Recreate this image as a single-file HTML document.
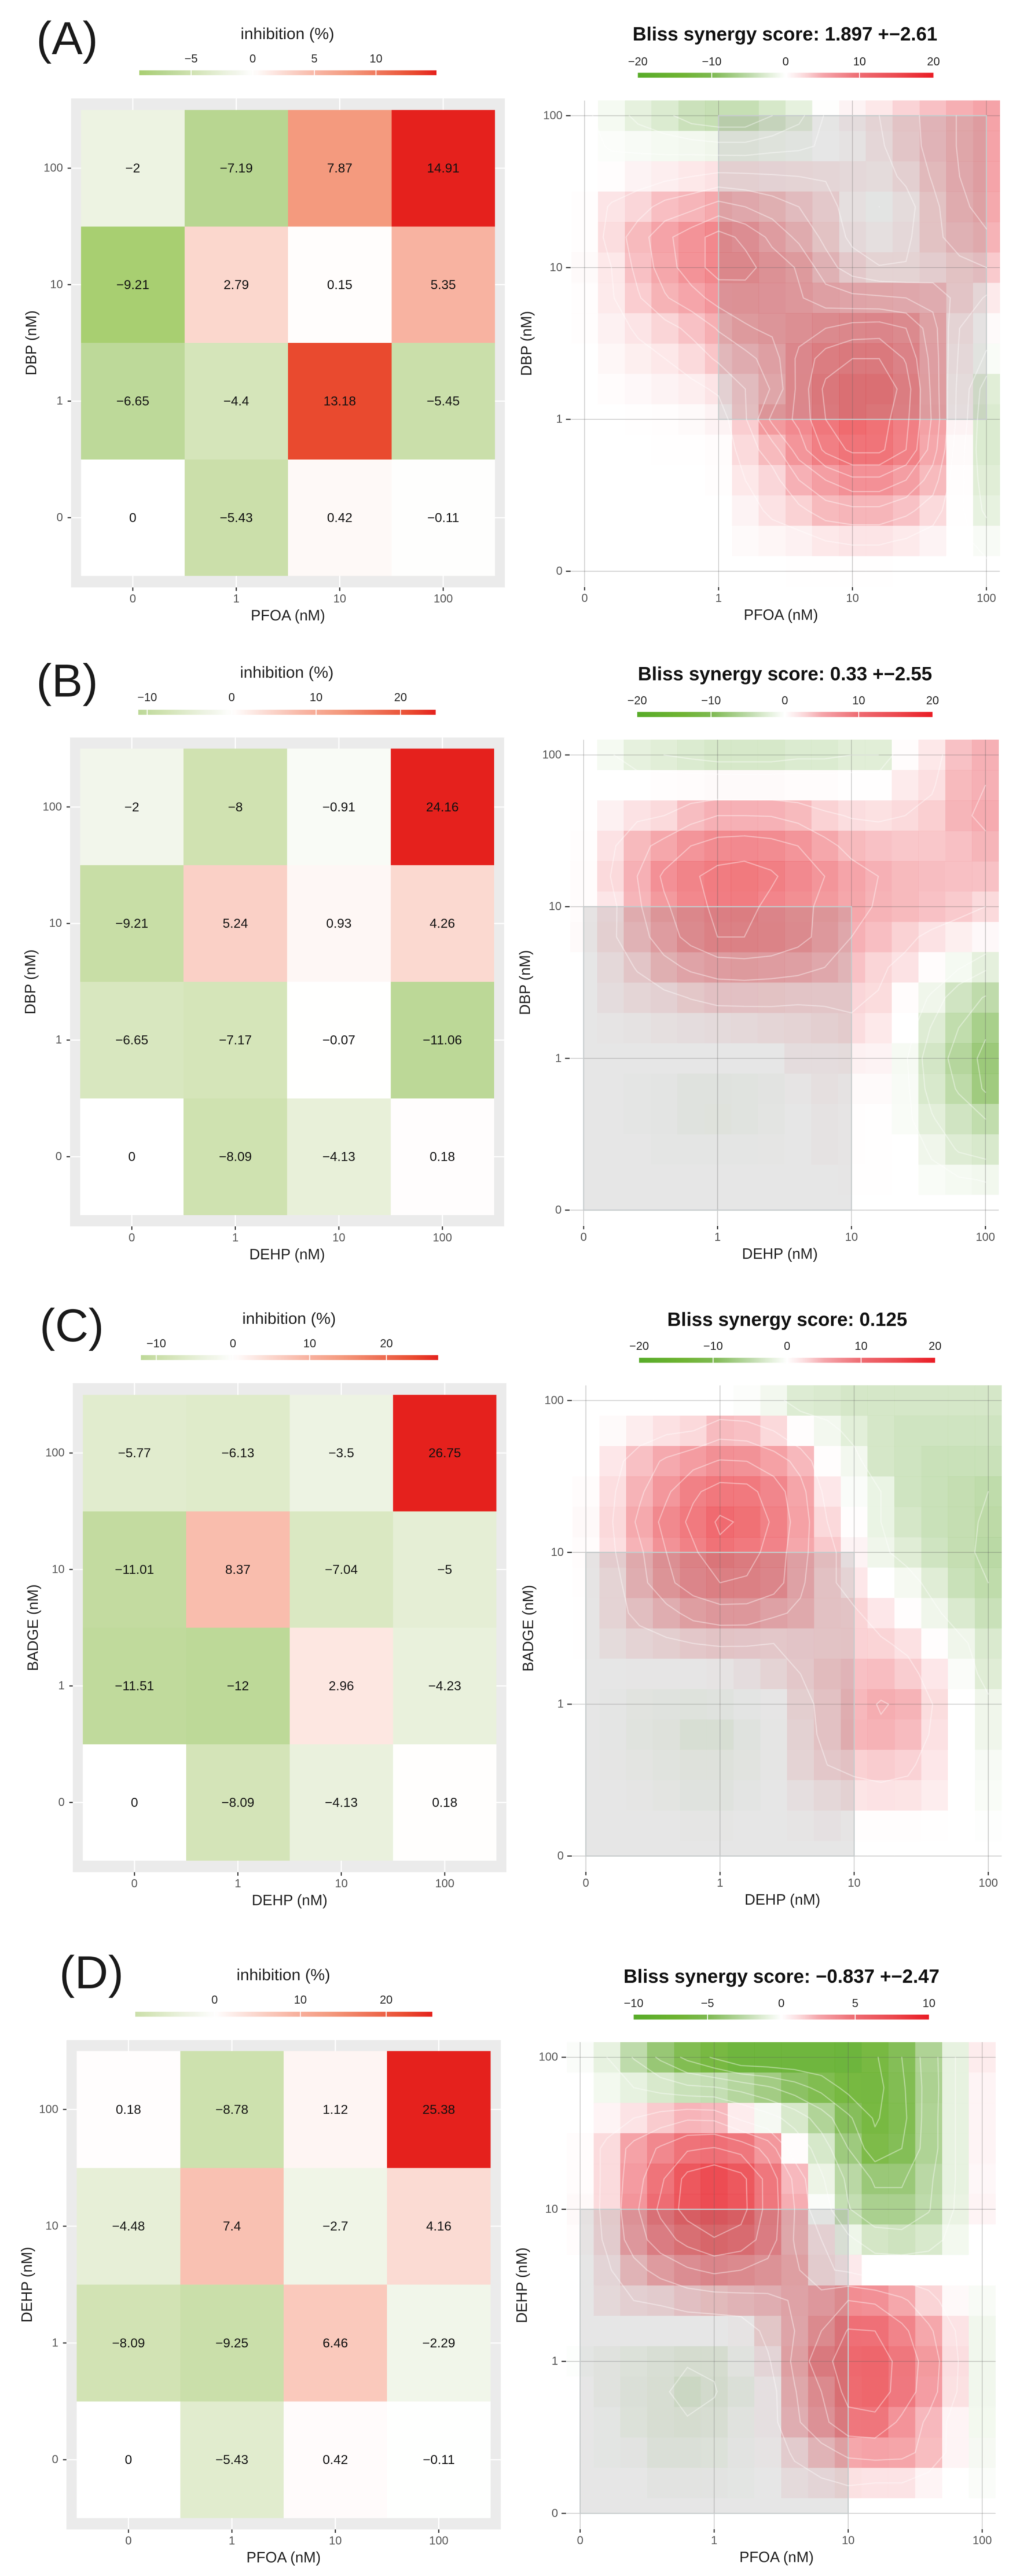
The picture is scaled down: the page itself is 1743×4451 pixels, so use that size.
<!DOCTYPE html>
<html lang="en">
<head>
<meta charset="utf-8">
<title>Inhibition heatmaps and Bliss synergy maps</title>
<style>
html,body{margin:0;padding:0;background:#fff;}
#figure{display:block;width:1743px;height:4451px;font-family:"Liberation Sans",Arial,sans-serif;filter:blur(.6px);}
</style>
</head>
<body>
<svg id="figure" xmlns="http://www.w3.org/2000/svg" width="1743" height="4451" viewBox="0 0 1743 4451"></svg>
<script>
const doseLabels = ['0','1','10','100'];

const panelLetters = ['(A)','(B)','(C)','(D)'];
const xDrugs = ['PFOA (nM)','DEHP (nM)','DEHP (nM)','PFOA (nM)'];
const yDrugs = ['DBP (nM)','DBP (nM)','BADGE (nM)','DEHP (nM)'];
const blissTitles = ['Bliss synergy score: 1.897 +\u22122.61','Bliss synergy score: 0.33 +\u22122.55','Bliss synergy score: 0.125','Bliss synergy score: \u22120.837 +\u22122.47'];

const inhibitionA = [[-2,-7.19,7.87,14.91],[-9.21,2.79,0.15,5.35],[-6.65,-4.4,13.18,-5.45],[0,-5.43,0.42,-0.11]];
const inhibitionB = [[-2,-8,-0.91,24.16],[-9.21,5.24,0.93,4.26],[-6.65,-7.17,-0.07,-11.06],[0,-8.09,-4.13,0.18]];
const inhibitionC = [[-5.77,-6.13,-3.5,26.75],[-11.01,8.37,-7.04,-5],[-11.51,-12,2.96,-4.23],[0,-8.09,-4.13,0.18]];
const inhibitionD = [[0.18,-8.78,1.12,25.38],[-4.48,7.4,-2.7,4.16],[-8.09,-9.25,6.46,-2.29],[0,-5.43,0.42,-0.11]];

const inhibitionTicksA = [-5,0,5,10];
const inhibitionTicksB = [-10,0,10,20];
const inhibitionTicksC = [-10,0,10,20];
const inhibitionTicksD = [0,10,20];

const synergyTicksA = [-20,-10,0,10,20];
const synergyTicksB = [-20,-10,0,10,20];
const synergyTicksC = [-20,-10,0,10,20];
const synergyTicksD = [-10,-5,0,5,10];

const contourLevelsA = [-6,-4,-2,-0.3,2,4,6,8,10,12,14];
const contourLevelsB = [-9,-6,-3,-1.2,3,6,9,12];
const contourLevelsC = [-6,-2,3,6,9,12,15];
const contourLevelsD = [-7,-5.5,-4,-2.5,-1,1,2.5,4,5.5,7];

const shadedDoseA = [1,3,1,3];
const shadedDoseB = [0,2,0,2];
const shadedDoseC = [0,2,0,2];
const shadedDoseD = [0,2,0,2];

const synergyA = [
[0,-1,-2.5,-3.5,-5,-5.5,-5.5,-4,-2.5,-0.1,1,2,3.4,4.6,6.2,7.5],
[0,-0.4,-0.7,-1,-1.2,-1.5,-1.5,-1,-0.7,0,0.5,1.7,3.2,4.6,6.2,7.5],
[0,0.2,1,1.5,2,2.5,2.4,2.2,2,1.8,1.5,1.2,2.4,4.2,6,7.3],
[0.2,2.3,3.2,4.7,5.5,6.8,6,5,4,3,0.8,-0.3,1.2,3.5,5.5,6.8],
[0.2,2.8,5,7.5,9.2,10.8,9.5,7.5,5.5,3.5,1.5,0.7,1.6,3.5,4.8,5.7],
[0.4,2,4.6,7,9.2,10.8,10.7,9,7.8,4.8,3,2.1,2.1,2.7,3.5,4],
[0.2,1.8,3.8,5.8,7.2,8.8,9,8.8,8.2,7,6.5,6.3,6,5.3,3.3,1.8],
[0.2,1.2,2.3,3.3,4.5,6.2,7.8,8.4,9.2,10,10.8,11,10,6.8,2,0.5],
[0,0.7,1.4,2,3,4.3,5.3,7,10.5,13,14,14,11.8,7.2,1.6,-0.6],
[0,0.3,0.6,1,1.5,2.3,4,6.2,10.6,14.5,16,16,13,7.4,1.2,-3],
[0,0,0.1,0.2,0.4,1,3.8,8.5,10.5,14,16,15,12.5,7.7,1,-3.5],
[0,0,0,0.1,0.1,0.3,3,5,9,12.5,14.5,14.5,12,7,0.4,-3.5],
[0,0,0,0,0,0.2,2,3.2,6,8,9.5,9.5,8,5,0.2,-3],
[0,0,0,0,0,0,1,2.5,3.5,5,5.5,5.5,4.5,3,0.1,-2.4],
[0,0,0,0,0,0,0.5,0.8,1.2,2,2.3,2.3,1.8,1,0,-0.7],
[0,0,0,0,0,0,0,0,0.1,0.1,0.1,0.1,0,0,0,0]
];

const synergyB = [
[0,-1,-2.5,-3,-3.5,-4,-4,-4,-3.5,-3.5,-3,-3,0.3,2,4.5,6],
[0,0,0,0.2,0.3,0.4,0.4,0.4,0.3,0.3,0.1,0.1,1.7,2.7,5,6],
[0.1,1.2,2.5,3,4.8,6,6,5.9,5,3.5,2.8,2.6,3,3.7,5.5,6.5],
[0.2,2.5,5,7,9,10.2,10.5,10,9,7,5,4.5,4.2,4.2,4.6,5.5],
[0.3,3,6,9.5,11.5,13,13.5,12.5,10.5,9,7.3,6,5,4.8,4.6,4.5],
[0.3,2.2,5.5,8.5,10.8,12.7,13,11.2,9.7,8.5,7,5.7,5,4.5,4,3],
[0.4,2.5,4.7,7.5,10,12,12,11.5,10,8,6,4.7,3.5,2.5,1.4,0.6],
[0,1.5,3.2,5,6.5,7.5,7.8,7.5,7,6,4.5,3.3,2.5,0.3,-1,-2.6],
[0,1,1.8,2.3,3.1,3.6,3.6,3.5,3.3,3.2,3.2,2.9,0.3,-1.5,-4.5,-6.2],
[0,0.2,0.5,0.8,1,1.3,1.5,1.8,2,2.5,2.8,1.9,0,-3.2,-6,-8.5],
[0,0,0,0,0,0,0,0,1,1,1.2,1,-0.9,-4.2,-7.2,-9.8],
[0,0,-0.2,-0.3,-0.8,-0.8,-0.7,-0.5,0.2,0.8,0.5,0.4,-0.7,-3.8,-6.3,-9.4],
[0,0,-0.2,-0.3,-0.8,-0.9,-0.7,-0.4,0,0.5,0.2,0.1,-0.6,-2.8,-4.5,-6],
[0,0,0,-0.2,-0.2,-0.2,-0.2,-0.1,0,0.5,0.2,0.1,0,-1.5,-3.2,-3.8],
[0,0,0,0,0,0,0,0,0,0,0.1,0.1,0,-0.6,-1,-1.3],
[0,0,0,0,0,0,0,0,0,0,0,0,0,0,0,0]
];

const synergyC = [
[0,0,0,0,0,0,-0.3,-1.2,-3.2,-3.5,-4,-4,-4,-4,-4,-4],
[0,0.4,1.5,2.5,3,4.8,4.5,3,0.2,-1.2,-2.8,-4,-4.5,-4.5,-4.5,-4.5],
[0,2,4.5,6.5,8,9.2,9,7.5,5,0.2,-1.2,-4,-4.5,-5,-5,-5],
[0.3,2.7,5.5,8.5,11.5,13.2,13,10.5,7,2,-0.5,-2,-4.5,-5,-5.5,-6],
[0.5,3,6.6,10,12.8,15.5,14.5,11.5,7.5,3,0.2,-2,-4,-5,-5.5,-6.3],
[0.3,2.7,5.5,9,11.5,14.3,13,11,6.8,4,1,-1.5,-3,-4.5,-5.5,-6.5],
[0.2,2,5,8.3,10.5,12,11.7,10.5,6.5,3.5,2,0,-1,-3,-5,-6],
[0.1,2,3.7,5,7,7.8,7.8,6.5,5.5,3.5,3.3,2,0.2,-1.5,-3.5,-5],
[0.1,1.2,2,2.5,3,3.3,3.2,3,3.2,3.3,3.4,3.3,2.5,0.2,-1.5,-3.5],
[0,0,0.1,0.1,0.1,0.3,1,2,3,4,4.5,4.7,3.7,2,-0.5,-3],
[0,-0.2,-0.6,-0.8,-0.9,-0.8,-0.3,0.1,2.5,3.5,5,6.2,5.5,2.8,0,-1.5],
[0,-0.2,-0.7,-1,-1.7,-1.7,-0.8,-0.1,2.2,3.5,5.3,5.6,4.8,2.5,0,-1.5],
[0,-0.1,-0.4,-0.7,-1,-1,-0.6,-0.1,2,3,3.5,3.8,3.4,2,0,-0.8],
[0,0,-0.1,-0.4,-0.8,-0.8,-0.3,0,0.8,1.5,2.2,2.4,2.3,1.5,0,-0.6],
[0,0,0,0,-0.1,-0.1,0,0,0.2,0.6,0.2,0.2,0.2,0.1,0,-0.2],
[0,0,0,0,0,0,0,0,0,0,0,0,0,0,0,0]
];

const synergyD = [
[-0.2,-1,-2.6,-4.3,-5.9,-7.2,-8.5,-8.5,-8.5,-8.5,-8.7,-7.2,-5.5,-3.3,-1,0.7],
[0,-0.5,-1,-1.6,-2.2,-2.4,-3,-3.8,-4.8,-6,-7.5,-7.6,-5.8,-3.4,-1,0.4],
[0,0.4,1,1.7,2.3,2.2,0.7,-0.4,-1.6,-3.2,-5.2,-7.2,-6,-3.3,-1,0.4],
[0.1,1.3,3,4.2,5.3,5.6,5,3.5,0.1,-1.7,-4,-6.5,-5.5,-3.3,-1,0.4],
[0.1,1.3,3.3,5.2,7.5,8.2,7.5,5,2.2,-0.8,-2.8,-4.2,-4.2,-2.8,-1,0.3],
[0.2,1.3,3.6,5.8,7.6,8.2,7.6,5,2.5,-0.2,-2.4,-3.5,-3.5,-2.6,-0.9,0.4],
[0.1,1.2,3.2,4.8,6,6.9,6.4,4.8,2.4,1,-0.7,-1.8,-2,-1.6,-0.5,0],
[0,0.8,2,3,3.8,4.3,4,3.5,2.8,1.2,0.8,0,0,0,0,0],
[0,0.6,1,1.2,1.6,1.8,2,2.2,2.6,3.2,4,3.8,2.8,1.5,0.2,-0.3],
[0,0,0,0,0,0,0.1,1.4,2.5,4,5.6,5.5,4.4,2.8,1,-0.6],
[-0.1,-0.3,-0.5,-0.7,-0.9,-0.9,-0.3,0.8,2.8,5,6.2,6.4,5,3.4,1.2,-0.6],
[0,-0.3,-0.6,-0.8,-1.4,-1.05,-0.6,0.3,2.4,4,6,6.3,4.9,3.2,1.1,-0.6],
[0,-0.1,-0.5,-0.8,-0.9,-0.8,-0.3,0.3,2.2,3.6,5,5.1,3.7,2.2,0.4,-0.5],
[0,-0.1,-0.2,-0.6,-0.6,-0.5,-0.2,0.1,1.2,2,2.8,3,2.9,2.1,0.4,-0.4],
[0,0,0,-0.2,-0.2,-0.2,-0.1,0,0.5,0.8,1.1,1,1,0.4,0,-0.2],
[0,0,0,0,0,0,0,0,0,0,0,0,0,0,0,0]
];

const inhibitionSeries = [inhibitionA,inhibitionB,inhibitionC,inhibitionD];
const inhibitionTickSets = [inhibitionTicksA,inhibitionTicksB,inhibitionTicksC,inhibitionTicksD];
const synergySeries = [synergyA,synergyB,synergyC,synergyD];
const synergyTickSets = [synergyTicksA,synergyTicksB,synergyTicksC,synergyTicksD];
const contourSets = [contourLevelsA,contourLevelsB,contourLevelsC,contourLevelsD];
const shadedSets = [shadedDoseA,shadedDoseB,shadedDoseC,shadedDoseD];
const synergyLimits = [20,20,20,10];

const leftFrames = [
  {panelL:122.8,panelR:872,panelT:170,panelB:1015,cellL:140,cellR:855,cellT:190,cellB:995,barL:240.5,barR:754,barT:121.5,barB:130,tickY:102,titleX:496.6,titleY:58,letterX:116,letterY:66,yTitleX:54.5},
  {panelL:121,panelR:871,panelT:1274.3,panelB:2119,cellL:138.3,cellR:853.6,cellT:1293.6,cellB:2099.3,barL:238.8,barR:752.6,barT:1226.4,barB:1235,tickY:1205.7,titleX:495.4,titleY:1161.4,letterX:116,letterY:1176,yTitleX:52.8},
  {panelL:125.7,panelR:874.8,panelT:2390,panelB:3235,cellL:142.9,cellR:857.6,cellT:2410,cellB:3215,barL:243.4,barR:757,barT:2341.4,barB:2350,tickY:2322,titleX:499.4,titleY:2278,letterX:124,letterY:2290,yTitleX:57.4},
  {panelL:114.8,panelR:865,panelT:3525,panelB:4370.5,cellL:132.6,cellR:847.3,cellT:3544,cellB:4351,barL:233.6,barR:746.8,barT:3476,barB:3484.6,tickY:3456,titleX:489.6,titleY:3412,letterX:158,letterY:3408,yTitleX:47}
];

const rightFrames = [
  {x0:1009.9,xStep:46.27,y0:987,yStep:52.47,barL:1101.8,barR:1612.5,barT:125.7,barB:134.3,tickY:107,titleX:1356,titleY:58.6,yTitleX:910,tileAlpha:0.78},
  {x0:1008.2,xStep:46.27,y0:2090.9,yStep:52.43,barL:1100.7,barR:1610.9,barT:1230,barB:1239,tickY:1211,titleX:1356,titleY:1164,yTitleX:907.5,tileAlpha:0.78},
  {x0:1012.1,xStep:46.34,y0:3207,yStep:52.47,barL:1104,barR:1615.3,barT:2346,barB:2354.7,tickY:2326.6,titleX:1359.9,titleY:2279.6,yTitleX:913,tileAlpha:0.8},
  {x0:1002.2,xStep:46.3,y0:4342.8,yStep:52.54,barL:1094.6,barR:1604.8,barT:3481,barB:3489.5,tickY:3462,titleX:1350,titleY:3414.4,yTitleX:902,tileAlpha:0.92}
];

const inhibitionRedStops = [[0,255,255,255],[0.18,251,216,207],[0.36,248,179,161],[0.53,244,154,126],[0.88,233,75,48],[1,229,33,29]];
const inhibitionGreenStops = [[0,255,255,255],[0.083,242,246,235],[0.134,237,243,226],[0.33,208,226,177],[0.48,184,214,146],[0.62,168,207,112],[1,111,179,60]];
const synergyRedStops = [[0,255,255,255],[0.125,251,218,220],[0.25,245,166,171],[0.5,238,107,114],[0.75,236,74,80],[1,234,28,36]];
const synergyGreenStops = [[0,255,255,255],[0.125,223,237,213],[0.25,188,217,168],[0.5,125,185,80],[0.7,111,180,51],[1,87,171,40]];

const NS = 'http://www.w3.org/2000/svg';
const root = document.getElementById('figure');

function mk(tag, attrs, parent, txt) {
  const node = document.createElementNS(NS, tag);
  for (const k in attrs) node.setAttribute(k, attrs[k]);
  if (txt !== undefined) node.textContent = txt;
  parent.appendChild(node);
  return node;
}
function rampColor(stops, t) {
  t = Math.min(1, Math.max(0, t));
  for (let i = 1; i < stops.length; i++) {
    if (t <= stops[i][0]) {
      const a = stops[i-1], b = stops[i], f = (t - a[0]) / (b[0] - a[0]);
      return 'rgb(' + [1,2,3].map(j => Math.round(a[j] + (b[j]-a[j]) * f)).join(',') + ')';
    }
  }
  const last = stops[stops.length-1];
  return 'rgb(' + last[1] + ',' + last[2] + ',' + last[3] + ')';
}
function divergeColor(v, limit, reds, greens) {
  return v >= 0 ? rampColor(reds, v/limit) : rampColor(greens, -v/limit);
}
function fmt(v) { return String(v).replace('-', '\u2212'); }

function contourSegments(grid, level) {
  const segs = [];
  const cross = (a, b) => (level - a) / (b - a);
  for (let r = 0; r < grid.length - 1; r++) {
    for (let c = 0; c < grid[r].length - 1; c++) {
      const tl = grid[r][c], tr = grid[r][c+1], br = grid[r+1][c+1], bl = grid[r+1][c];
      const pts = [];
      if ((tl > level) !== (tr > level)) pts.push([c + cross(tl,tr), r]);
      if ((tr > level) !== (br > level)) pts.push([c + 1, r + cross(tr,br)]);
      if ((br > level) !== (bl > level)) pts.push([c + cross(bl,br), r + 1]);
      if ((bl > level) !== (tl > level)) pts.push([c, r + cross(tl,bl)]);
      if (pts.length === 2) segs.push([pts[0], pts[1]]);
      if (pts.length === 4) { segs.push([pts[0], pts[3]]); segs.push([pts[1], pts[2]]); }
    }
  }
  return segs;
}

function drawLegendBar(group, idSuffix, L, R, T, B, lo, hi, limit, reds, greens, ticks, tickY) {
  const defs = mk('defs', {}, group);
  const grad = mk('linearGradient', {id:'grad-' + idSuffix, x1:'0', x2:'1', y1:'0', y2:'0'}, defs);
  for (let i = 0; i <= 40; i++) {
    const v = lo + (hi - lo) * i / 40;
    mk('stop', {offset:(i/40), 'stop-color':divergeColor(v, limit, reds, greens)}, grad);
  }
  const bar = mk('rect', {x:L, y:T, width:R-L, height:B-T, fill:'url(#grad-' + idSuffix + ')'}, group);
  
  
  const legendX = v => L + (v - lo) / (hi - lo) * (R - L);
  ticks.forEach(v => {
    const x = legendX(v);
    if (x > L + 2 && x < R - 2) {
      mk('line', {x1:x, x2:x, y1:T, y2:B, stroke:'#fff', 'stroke-width':1.6}, group);
    }
    const t = mk('text', {x:x, y:tickY, 'font-size':20, fill:'#262626', 'text-anchor':'middle', 'dominant-baseline':'central'}, group, fmt(v));
    
    
  });
}

function drawHeatmap(idx) {
  const f = leftFrames[idx], data = inhibitionSeries[idx], ticks = inhibitionTickSets[idx];
  const g = mk('g', {}, root);
  
  

  const letter = mk('text', {x:f.letterX, y:f.letterY, 'font-size':80, fill:'#1a1a1a', 'text-anchor':'middle', 'dominant-baseline':'central'}, g, panelLetters[idx]);
  
  

  const legendTitle = mk('text', {x:f.titleX, y:f.titleY, 'font-size':28, fill:'#1f1f1f', 'text-anchor':'middle', 'dominant-baseline':'central'}, g, 'inhibition (%)');
  
  

  const flat = data.flat();
  const lo = Math.min(...flat), hi = Math.max(...flat);
  drawLegendBar(g, 'inh' + idx, f.barL, f.barR, f.barT, f.barB, lo, hi, hi, inhibitionRedStops, inhibitionGreenStops, ticks, f.tickY);

  const bg = mk('rect', {x:f.panelL, y:f.panelT, width:f.panelR-f.panelL, height:f.panelB-f.panelT, fill:'#ebebeb'}, g);
  
  

  const colW = (f.cellR - f.cellL) / doseLabels.length;
  const rowH = (f.cellB - f.cellT) / doseLabels.length;
  const xAt = c => f.cellL + (c + 0.5) * colW;
  const yAt = r => f.cellT + (r + 0.5) * rowH;

  doseLabels.forEach((lab, i) => {
    const gx = xAt(i), gy = yAt(doseLabels.length - 1 - i);
    mk('line', {x1:gx, x2:gx, y1:f.panelT, y2:f.panelB, stroke:'#fff', 'stroke-width':2}, g);
    mk('line', {x1:f.panelL, x2:f.panelR, y1:gy, y2:gy, stroke:'#fff', 'stroke-width':2}, g);
    mk('line', {x1:gx, x2:gx, y1:f.panelB, y2:f.panelB+6, stroke:'#333', 'stroke-width':2}, g);
    mk('line', {x1:f.panelL-6, x2:f.panelL, y1:gy, y2:gy, stroke:'#333', 'stroke-width':2}, g);
    const tx = mk('text', {x:gx, y:f.panelB+20, 'font-size':20, fill:'#555', 'text-anchor':'middle', 'dominant-baseline':'central'}, g, lab);
    
    
    const ty = mk('text', {x:f.panelL-14, y:gy, 'font-size':20, fill:'#555', 'text-anchor':'end', 'dominant-baseline':'central'}, g, lab);
    
    
  });

  data.forEach((row, r) => row.forEach((v, c) => {
    const cell = mk('rect', {x:xAt(c)-colW/2, y:yAt(r)-rowH/2, width:colW, height:rowH, fill:divergeColor(v, hi, inhibitionRedStops, inhibitionGreenStops), 'shape-rendering':'crispEdges'}, g);
    
    
  }));
  data.forEach((row, r) => row.forEach((v, c) => {
    const lbl = mk('text', {x:xAt(c), y:yAt(r), 'font-size':22.5, fill:'#111', 'text-anchor':'middle', 'dominant-baseline':'central'}, g, fmt(v));
    
    
  }));

  const xTitle = mk('text', {x:(f.panelL+f.panelR)/2, y:f.panelB+49, 'font-size':25.7, fill:'#1f1f1f', 'text-anchor':'middle', 'dominant-baseline':'central'}, g, xDrugs[idx]);
  
  
  const cy = (f.panelT+f.panelB)/2;
  const yTitle = mk('text', {x:f.yTitleX, y:cy, 'font-size':25.7, fill:'#1f1f1f', 'text-anchor':'middle', 'dominant-baseline':'central', transform:'rotate(-90 ' + f.yTitleX + ' ' + cy + ')'}, g, yDrugs[idx]);
  
  
}

function drawSynergy(idx) {
  const f = rightFrames[idx], grid = synergySeries[idx], limit = synergyLimits[idx];
  const g = mk('g', {}, root);
  
  

  const title = mk('text', {x:f.titleX, y:f.titleY, 'font-size':33, 'font-weight':'bold', fill:'#111', 'text-anchor':'middle', 'dominant-baseline':'central'}, g, blissTitles[idx]);
  
  

  drawLegendBar(g, 'syn' + idx, f.barL, f.barR, f.barT, f.barB, -limit, limit, limit, synergyRedStops, synergyGreenStops, synergyTickSets[idx], f.tickY);

  const n = grid.length;
  const xAt = c => f.x0 + c * f.xStep;
  const yAt = r => f.y0 - (n - 1 - r) * f.yStep;
  const doseX = d => xAt(d * 5);
  const doseY = d => f.y0 - d * 5 * f.yStep;

  grid.forEach((row, r) => row.forEach((v, c) => {
    const tile = mk('rect', {x:xAt(c)-f.xStep/2, y:yAt(r)-f.yStep/2, width:f.xStep+0.3, height:f.yStep+0.3, fill:divergeColor(v, limit, synergyRedStops, synergyGreenStops), 'fill-opacity':f.tileAlpha, 'shape-rendering':'crispEdges'}, g);
    
    
  }));

  const left = xAt(0)-f.xStep/2, right = xAt(n-1)+f.xStep/2, top = yAt(0)-f.yStep/2, bottom = yAt(n-1)+f.yStep/2;
  doseLabels.forEach((lab, i) => {
    const gx = doseX(i), gy = doseY(i);
    mk('line', {x1:gx, x2:gx, y1:top, y2:bottom, stroke:'rgba(90,90,90,.3)', 'stroke-width':1.5}, g);
    mk('line', {x1:left, x2:right, y1:gy, y2:gy, stroke:'rgba(90,90,90,.3)', 'stroke-width':1.5}, g);
    mk('line', {x1:gx, x2:gx, y1:bottom+1, y2:bottom+7, stroke:'#333', 'stroke-width':2}, g);
    mk('line', {x1:left-9, x2:left-1, y1:gy, y2:gy, stroke:'#333', 'stroke-width':2}, g);
    const tx = mk('text', {x:gx, y:bottom+21, 'font-size':20, fill:'#555', 'text-anchor':'middle', 'dominant-baseline':'central'}, g, lab);
    
    
    const ty = mk('text', {x:left-15, y:gy, 'font-size':20, fill:'#555', 'text-anchor':'end', 'dominant-baseline':'central'}, g, lab);
    
    
  });

  const s = shadedSets[idx];
  const shade = mk('rect', {x:doseX(s[0]), y:doseY(s[3]), width:doseX(s[1])-doseX(s[0]), height:doseY(s[2])-doseY(s[3]), fill:'rgba(128,128,128,.2)', stroke:'#c6cbcc', 'stroke-width':2}, g);
  
  

  contourSets[idx].forEach(level => {
    const d = contourSegments(grid, level).map(seg =>
      'M' + xAt(seg[0][0]).toFixed(1) + ' ' + yAt(seg[0][1]).toFixed(1) + 'L' + xAt(seg[1][0]).toFixed(1) + ' ' + yAt(seg[1][1]).toFixed(1)
    ).join('');
    const path = mk('path', {d:d, fill:'none', stroke:'#fff', 'stroke-opacity':0.4, 'stroke-width':2, 'stroke-linecap':'round'}, g);
    
    
  });

  const xTitle = mk('text', {x:(left+right)/2 - 8, y:bottom+50, 'font-size':25.7, fill:'#1f1f1f', 'text-anchor':'middle', 'dominant-baseline':'central'}, g, xDrugs[idx]);
  
  
  const cy = (top+bottom)/2;
  const yTitle = mk('text', {x:f.yTitleX, y:cy, 'font-size':25.7, fill:'#1f1f1f', 'text-anchor':'middle', 'dominant-baseline':'central', transform:'rotate(-90 ' + f.yTitleX + ' ' + cy + ')'}, g, yDrugs[idx]);
  
  
}

for (let i = 0; i < 4; i++) {
  drawHeatmap(i);
  drawSynergy(i);
}
</script>
</body>
</html>
